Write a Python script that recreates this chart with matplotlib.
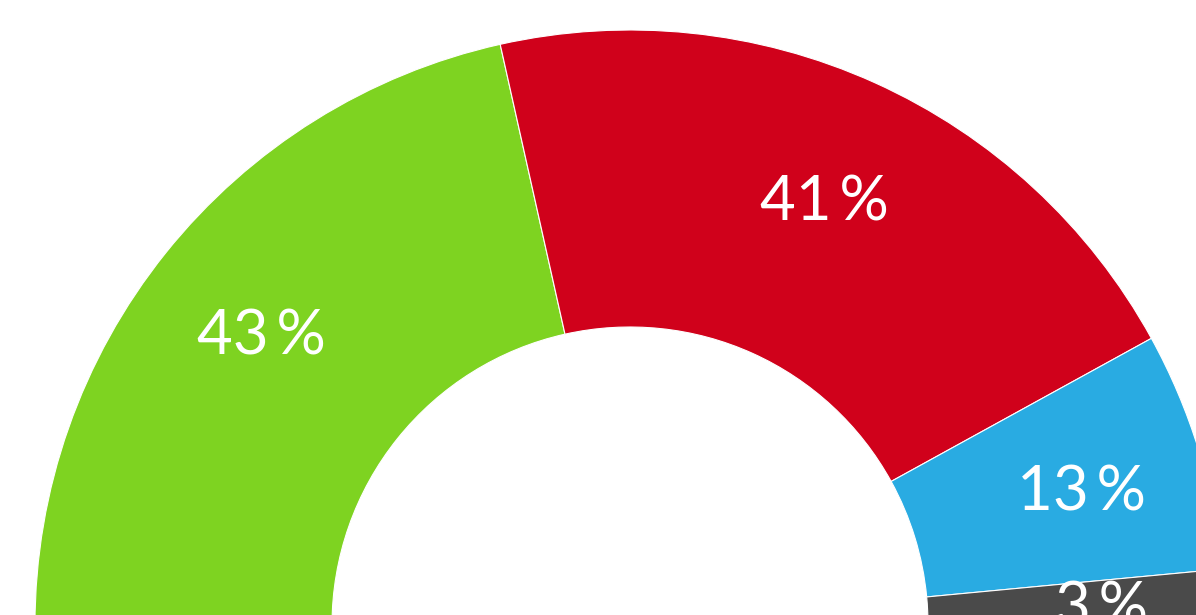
import matplotlib.pyplot as plt
import numpy as np

labels = ['43\u2009%', '41\u2009%', '13\u2009%', '3\u2009%']
values = [43, 41, 13, 3]
colors = ['#7ED321', '#D0011B', '#29ABE2', '#4A4A4A']

fig = plt.figure(figsize=(11.96, 6.15), dpi=100)
ax = fig.add_axes([0, 0, 1, 1])

# half donut: add an invisible wedge for the lower half
wedges, _ = ax.pie(values + [sum(values)], colors=colors + ['none'],
                   radius=595, startangle=180, counterclock=False,
                   wedgeprops=dict(width=297, edgecolor='white', linewidth=0.8))
wedges[-1].set_edgecolor('none')

start = 180.0
for lab, v in zip(labels, values):
    span = 180.0 * v / sum(values)
    mid = np.radians(start - span / 2)
    start -= span
    ax.text(472 * np.cos(mid), 470 * np.sin(mid) - 6, lab, color='white',
            fontsize=44.5, family=['Lato', 'DejaVu Sans'], ha='center', va='center')

ax.set_xlim(-630, 566)
ax.set_ylim(10, 625)
ax.axis('off')
fig.savefig('out.png', dpi=100)
